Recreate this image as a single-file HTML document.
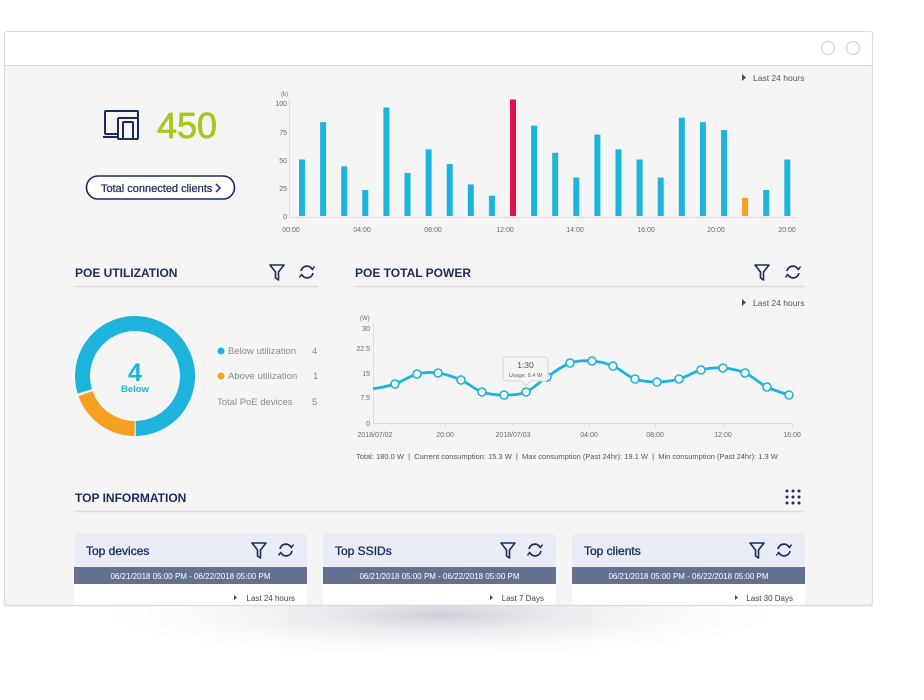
<!DOCTYPE html>
<html><head><meta charset="utf-8"><style>
html,body{margin:0;padding:0;background:#fff;}
svg{display:block;font-family:"Liberation Sans",sans-serif;}
</style></head><body>
<svg width="924" height="700" viewBox="0 0 924 700" xmlns="http://www.w3.org/2000/svg">
<defs>
<radialGradient id="sh" cx="0.5" cy="0.5" r="0.5">
<stop offset="0" stop-color="#c8cad3" stop-opacity="0.9"/><stop offset="1" stop-color="#ffffff" stop-opacity="0"/>
</radialGradient>
<g id="filt"><path d="M0 0 H14 L8.5 7 V15 L5.5 13 V7 Z" fill="none" stroke="#1f2a5c" stroke-width="1.6" stroke-linejoin="round"/></g>
<g id="refr" fill="none" stroke="#1f2a5c" stroke-width="1.7"><path d="M-6 -1 A6 6 0 0 1 5 -3"/><path d="M6 1 A6 6 0 0 1 -5 3"/><path d="M3 -5 L5.5 -2.5 L7.5 -5.5" stroke-width="1.4"/><path d="M-3 5 L-5.5 2.5 L-7.5 5.5" stroke-width="1.4"/></g>
</defs>
<ellipse cx="440" cy="615" rx="360" ry="45" fill="url(#sh)"/>
<rect x="4.5" y="31.5" width="868" height="574" rx="3" fill="#f5f5f5" stroke="#d7dbe6"/>
<rect x="5" y="32" width="867" height="33" fill="#fff"/>
<line x1="5" y1="65.5" x2="872" y2="65.5" stroke="#d7dbe6"/>
<circle cx="828" cy="48" r="6.5" fill="#fff" stroke="#cfd3de" stroke-width="1.2"/>
<circle cx="853" cy="48" r="6.5" fill="#fff" stroke="#cfd3de" stroke-width="1.2"/>

<!-- top left -->
<g fill="none" stroke="#1f2a5c" stroke-width="2">
<rect x="105" y="111" width="33" height="23" rx="1"/>
<line x1="103" y1="137" x2="124" y2="137"/>
<rect x="118" y="118" width="20" height="21" rx="1" fill="#f5f5f5"/>
<rect x="123" y="122" width="10" height="17" rx="1" fill="#f5f5f5"/>
</g>
<text x="157" y="138" font-size="36" fill="#a8c81d" stroke="#a8c81d" stroke-width="0.8">450</text>
<rect x="86.5" y="176" width="148" height="23" rx="11.5" fill="#fff" stroke="#1f2a5c" stroke-width="1.6"/>
<text x="101" y="192" font-size="11" fill="#1f2a5c" stroke="#1f2a5c" stroke-width="0.25">Total connected clients</text>
<path d="M216 184 L220 188 L216 192" fill="none" stroke="#1f2a5c" stroke-width="1.5"/>

<!-- bar chart -->
<path d="M742 74 L746 77.5 L742 81Z" fill="#3f4a74"/>
<text x="753" y="81" font-size="8.5" fill="#555">Last 24 hours</text>
<text x="281" y="96" font-size="6" fill="#666">(k)</text>
<g font-size="7" fill="#666" text-anchor="end">
<text x="287" y="106">100</text><text x="287" y="135">75</text><text x="287" y="163">50</text><text x="287" y="191">25</text><text x="287" y="219">0</text>
</g>
<line x1="289.5" y1="99" x2="289.5" y2="217" stroke="#ddd"/>
<line x1="289" y1="217.5" x2="796" y2="217.5" stroke="#ddd"/>
<g fill="#1cb4dc">
<rect x="299" y="159.5" width="6" height="56.5"/><rect x="320.1" y="122.2" width="6" height="93.8"/><rect x="341.2" y="166.3" width="6" height="49.7"/><rect x="362.3" y="190" width="6" height="26"/><rect x="383.4" y="107.5" width="6" height="108.5"/><rect x="404.5" y="173.1" width="6" height="42.9"/><rect x="425.6" y="149.3" width="6" height="66.7"/><rect x="446.7" y="164" width="6" height="52"/><rect x="467.8" y="184.4" width="6" height="31.6"/><rect x="488.9" y="195.7" width="6" height="20.3"/>
<rect x="510" y="99.5" width="6" height="116.5" fill="#e0134f"/>
<rect x="531.1" y="125.6" width="6" height="90.4"/><rect x="552.2" y="152.7" width="6" height="63.3"/><rect x="573.3" y="177.6" width="6" height="38.4"/><rect x="594.4" y="134.6" width="6" height="81.4"/><rect x="615.5" y="149.3" width="6" height="66.7"/><rect x="636.6" y="159.5" width="6" height="56.5"/><rect x="657.7" y="177.6" width="6" height="38.4"/><rect x="678.8" y="117.7" width="6" height="98.3"/><rect x="699.9" y="122.2" width="6" height="93.8"/><rect x="721" y="130.1" width="6" height="85.9"/>
<rect x="742.1" y="197.9" width="6" height="18.1" fill="#f6a023"/>
<rect x="763.2" y="190" width="6" height="26"/><rect x="784.3" y="159.5" width="6" height="56.5"/>
</g>
<g font-size="7" fill="#666" text-anchor="middle">
<text x="291" y="232">00:00</text><text x="362" y="232">04:00</text><text x="433" y="232">08:00</text><text x="505" y="232">12:00</text><text x="575" y="232">14:00</text><text x="646" y="232">16:00</text><text x="716" y="232">20:00</text><text x="787" y="232">20:00</text>
</g>

<!-- POE utilization -->
<text x="75" y="277" font-size="12" font-weight="bold" fill="#1f2a5c">POE UTILIZATION</text>
<line x1="75" y1="286.5" x2="318" y2="286.5" stroke="#dcdcdc" stroke-width="1.5"/>
<use href="#filt" x="270" y="265"/>
<use href="#refr" x="307" y="272"/>
<circle cx="135" cy="376" r="52.5" fill="none" stroke="#1cb4dc" stroke-width="15" stroke-dasharray="262 330" transform="rotate(163 135 376)"/>
<circle cx="135" cy="376" r="52.5" fill="none" stroke="#f6a023" stroke-width="15" stroke-dasharray="64 330" transform="rotate(90.5 135 376)"/>
<text x="135" y="381" font-size="25" font-weight="bold" fill="#1cb4dc" text-anchor="middle">4</text>
<text x="135" y="392" font-size="9.5" font-weight="bold" fill="#1cb4dc" text-anchor="middle">Below</text>
<circle cx="221" cy="351" r="3.5" fill="#1cb4dc"/>
<circle cx="221" cy="376" r="3.5" fill="#f6a023"/>
<g font-size="9.5" fill="#8a8a8a">
<text x="228" y="354">Below utilization</text><text x="312" y="354">4</text>
<text x="228" y="379">Above utilization</text><text x="313" y="379">1</text>
<text x="217" y="405">Total PoE devices</text><text x="312" y="405">5</text>
</g>

<!-- POE total power -->
<text x="355" y="277" font-size="12" font-weight="bold" fill="#1f2a5c">POE TOTAL POWER</text>
<line x1="355" y1="286.5" x2="804" y2="286.5" stroke="#dcdcdc" stroke-width="1.5"/>
<use href="#filt" x="755" y="265"/>
<use href="#refr" x="793" y="272"/>
<path d="M742 299 L746 302.5 L742 306Z" fill="#3f4a74"/>
<text x="753" y="306" font-size="8.5" fill="#555">Last 24 hours</text>
<text x="360" y="320" font-size="6" fill="#666">(W)</text>
<g font-size="7" fill="#666" text-anchor="end">
<text x="370" y="331">30</text><text x="370" y="351">22.5</text><text x="370" y="376">15</text><text x="370" y="400">7.5</text><text x="370" y="426">0</text>
</g>
<line x1="373.5" y1="323" x2="373.5" y2="423" stroke="#ddd"/>
<line x1="373" y1="423.5" x2="792" y2="423.5" stroke="#ddd"/>
<g stroke="#ddd"><line x1="445.5" y1="423" x2="445.5" y2="427"/><line x1="513.5" y1="423" x2="513.5" y2="427"/><line x1="589.5" y1="423" x2="589.5" y2="427"/><line x1="655.5" y1="423" x2="655.5" y2="427"/><line x1="723.5" y1="423" x2="723.5" y2="427"/><line x1="792.5" y1="423" x2="792.5" y2="427"/></g>
<path id="lp" d="" fill="none" stroke="#1cb4dc" stroke-width="2.8"/>
<g id="pts" fill="#fff" stroke="#1cb4dc" stroke-width="1.6"></g>
<g font-size="7" fill="#666" text-anchor="middle">
<text x="375" y="437">2018/07/02</text><text x="445" y="437">20:00</text><text x="513" y="437">2018/07/03</text><text x="589" y="437">04:00</text><text x="655" y="437">08:00</text><text x="723" y="437">12:00</text><text x="792" y="437">16:00</text>
</g>
<g>
<rect x="503" y="357" width="45" height="24" rx="3" fill="#f3f4f6" stroke="#d5d8de"/>
<path d="M521 380.5 L526 386 L531 380.5" fill="#f3f4f6" stroke="#d5d8de"/>
<rect x="521" y="379" width="10" height="2" fill="#f3f4f6"/>
<text x="525.5" y="368" font-size="8.5" fill="#555" text-anchor="middle">1:30</text>
<text x="525.5" y="377" font-size="5.5" fill="#666" text-anchor="middle">Usage: 8.4 W</text>
</g>
<text x="356" y="459" font-size="7.5" fill="#555" xml:space="preserve">Total: 180.0 W  |  Current consumption: 15.3 W  |  Max consumption (Past 24hr): 19.1 W  |  Min consumption (Past 24hr): 1.3 W</text>

<!-- top information -->
<text x="75" y="502" font-size="12" font-weight="bold" fill="#1f2a5c">TOP INFORMATION</text>
<line x1="75" y1="511.5" x2="804" y2="511.5" stroke="#dcdcdc" stroke-width="1.5"/>
<g fill="#1f2a5c">
<circle cx="787" cy="491" r="1.5"/><circle cx="793" cy="491" r="1.5"/><circle cx="799" cy="491" r="1.5"/>
<circle cx="787" cy="497" r="1.5"/><circle cx="793" cy="497" r="1.5"/><circle cx="799" cy="497" r="1.5"/>
<circle cx="787" cy="503" r="1.5"/><circle cx="793" cy="503" r="1.5"/><circle cx="799" cy="503" r="1.5"/>
</g>
<g>
<rect x="74" y="533" width="233" height="73" rx="6" fill="#e9ecf4"/>
<rect x="74" y="567" width="233" height="17" fill="#62718f"/>
<rect x="74" y="584" width="233" height="22" fill="#fff"/>
<text x="86" y="555" font-size="12" fill="#1f2a5c" stroke="#1f2a5c" stroke-width="0.35">Top devices</text>
<use href="#filt" x="252" y="543"/><use href="#refr" x="286" y="550"/>
<text x="190.5" y="579" font-size="8" fill="#fff" text-anchor="middle">06/21/2018 05:00 PM - 06/22/2018 05:00 PM</text>
<path d="M234 595 L237 597.5 L234 600Z" fill="#3f4a74"/>
<text x="295" y="601" font-size="8" fill="#444" text-anchor="end">Last 24 hours</text>
</g>
<g>
<rect x="323" y="533" width="233" height="73" rx="6" fill="#e9ecf4"/>
<rect x="323" y="567" width="233" height="17" fill="#62718f"/>
<rect x="323" y="584" width="233" height="22" fill="#fff"/>
<text x="335" y="555" font-size="12" fill="#1f2a5c" stroke="#1f2a5c" stroke-width="0.35">Top SSIDs</text>
<use href="#filt" x="501" y="543"/><use href="#refr" x="535" y="550"/>
<text x="439.5" y="579" font-size="8" fill="#fff" text-anchor="middle">06/21/2018 05:00 PM - 06/22/2018 05:00 PM</text>
<path d="M490 595 L493 597.5 L490 600Z" fill="#3f4a74"/>
<text x="544" y="601" font-size="8" fill="#444" text-anchor="end">Last 7 Days</text>
</g>
<g>
<rect x="572" y="533" width="233" height="73" rx="6" fill="#e9ecf4"/>
<rect x="572" y="567" width="233" height="17" fill="#62718f"/>
<rect x="572" y="584" width="233" height="22" fill="#fff"/>
<text x="584" y="555" font-size="12" fill="#1f2a5c" stroke="#1f2a5c" stroke-width="0.35">Top clients</text>
<use href="#filt" x="750" y="543"/><use href="#refr" x="784" y="550"/>
<text x="688.5" y="579" font-size="8" fill="#fff" text-anchor="middle">06/21/2018 05:00 PM - 06/22/2018 05:00 PM</text>
<path d="M735 595 L738 597.5 L735 600Z" fill="#3f4a74"/>
<text x="793" y="601" font-size="8" fill="#444" text-anchor="end">Last 30 Days</text>
</g>
<line x1="4" y1="605.5" x2="873" y2="605.5" stroke="#d7dbe6" stroke-width="1.5"/>
</svg>
<script>
var P=[[373,389],[395,384],[417,374],[438,373],[461,380],[482,392],[504,395],[526,392],[547,377],[570,363],[592,361],[613,366],[635,379],[657,382],[679,379],[701,370],[723,368],[745,373],[767,387],[789,395]];
var d="M"+P[0][0]+" "+P[0][1];
for(var i=0;i<P.length-1;i++){var p0=P[Math.max(0,i-1)],p1=P[i],p2=P[i+1],p3=P[Math.min(P.length-1,i+2)];
var c1x=p1[0]+(p2[0]-p0[0])/6,c1y=p1[1]+(p2[1]-p0[1])/6,c2x=p2[0]-(p3[0]-p1[0])/6,c2y=p2[1]-(p3[1]-p1[1])/6;
d+=" C"+c1x+" "+c1y+" "+c2x+" "+c2y+" "+p2[0]+" "+p2[1];}
document.getElementById("lp").setAttribute("d",d);
var g=document.getElementById("pts"),s="";
for(var i=1;i<P.length;i++){s+='<circle cx="'+P[i][0]+'" cy="'+P[i][1]+'" r="4"/>';}
g.innerHTML=s;
</script>
</body></html>
